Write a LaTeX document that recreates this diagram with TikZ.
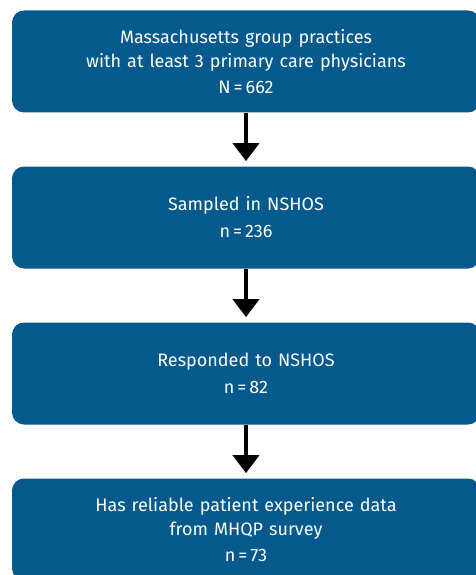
\documentclass[tikz,border=0pt]{standalone}
\usepackage{fontspec}
\setmainfont{Fira Sans}
\usetikzlibrary{arrows.meta}

\definecolor{boxblue}{RGB}{4,90,141}
\tikzset{every picture/.style={line width=0.75pt}}
\tikzset{
  stagebox/.style={fill=boxblue, rounded corners=12pt, minimum width=468pt,
    minimum height=102pt, text width=440pt, align=center, text=white,
    inner sep=0pt, font=\fontsize{18}{24}\selectfont},
  stagearrow/.style={-{Triangle[width=26pt,length=18pt]}, line width=4pt,
    shorten >=5pt}
}

\begin{document}
\begin{tikzpicture}[x=1pt, y=1pt, yscale=-1, xscale=1]

    \useasboundingbox (0,0) rectangle (476,575);

    % stages
    \node [stagebox] (groups)  at (246, 61.5)
          {Massachusetts group practices\\with at least 3 primary care physicians\\[2pt]N\,=\,662};
    \node [stagebox] (sampled) at (246, 217.5)
          {Sampled in NSHOS\\[3pt]n\,=\,236};
    \node [stagebox] (respond) at (246, 373.5)
          {Responded to NSHOS\\[3pt]n\,=\,82};
    \node [stagebox] (mhqp)    at (246, 529.5)
          {Has reliable patient experience data\\from MHQP survey\\[2pt]n\,=\,73};

    % flow
    \draw [stagearrow] (groups)  -- (sampled);
    \draw [stagearrow] (sampled) -- (respond);
    \draw [stagearrow] (respond) -- (mhqp);

\end{tikzpicture}
\end{document}
